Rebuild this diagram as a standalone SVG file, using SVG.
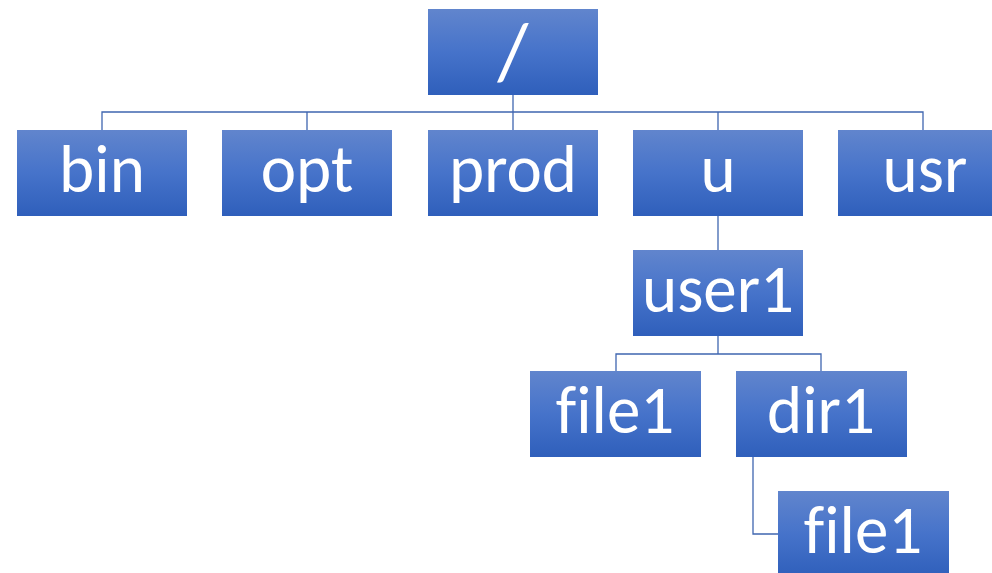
<svg xmlns="http://www.w3.org/2000/svg" width="992" height="573" viewBox="0 0 992 573">
  <defs>
    <linearGradient id="boxFill" x1="0" y1="0" x2="0" y2="1">
      <stop offset="0" stop-color="#6185cd"/>
      <stop offset="0.5" stop-color="#4673ca"/>
      <stop offset="1" stop-color="#2f5fbb"/>
    </linearGradient>
    <style>
      .box { fill: url(#boxFill); }
      .label { fill: #ffffff; font-family: "Carlito", "Liberation Sans", sans-serif; font-size: 67px; text-anchor: middle; font-variant-ligatures: none; }
      .link { fill: none; stroke: #3f66b0; stroke-width: 1.3; }
    </style>
  </defs>

  <!-- tree connectors -->
  <g id="connectors">
    <path class="link" d="M513 95 V112"/>
    <path class="link" d="M102 130 V112 H923 V130"/>
    <path class="link" d="M307 112 V130 M513 112 V130 M718 112 V130"/>
    <path class="link" d="M718 216 V250"/>
    <path class="link" d="M718 336 V354"/>
    <path class="link" d="M616 371 V354 H821 V371"/>
    <path class="link" d="M753 457 V534 H778"/>
  </g>

  <g id="root">
    <rect class="box" x="428" y="9" width="170" height="86"/>
    <text class="label" x="513" y="79" style="font-size:80px">/</text>
  </g>
  <g id="bin">
    <rect class="box" x="17" y="130" width="170" height="86"/>
    <text class="label" x="102" y="192">bin</text>
  </g>
  <g id="opt">
    <rect class="box" x="222" y="130" width="170" height="86"/>
    <text class="label" x="307" y="192">opt</text>
  </g>
  <g id="prod">
    <rect class="box" x="428" y="130" width="170" height="86"/>
    <text class="label" x="513" y="192">prod</text>
  </g>
  <g id="u">
    <rect class="box" x="633" y="130" width="170" height="86"/>
    <text class="label" x="718" y="192">u</text>
  </g>
  <g id="usr">
    <rect class="box" x="838" y="130" width="170" height="86"/>
    <text class="label" x="925" y="192">usr</text>
  </g>
  <g id="user1">
    <rect class="box" x="633" y="250" width="170" height="86"/>
    <text class="label" x="718" y="312">user1</text>
  </g>
  <g id="file1">
    <rect class="box" x="530" y="371" width="171" height="86"/>
    <text class="label" x="615" y="433">file1</text>
  </g>
  <g id="dir1">
    <rect class="box" x="736" y="371" width="171" height="86"/>
    <text class="label" x="821" y="433">dir1</text>
  </g>
  <g id="dir1-file1">
    <rect class="box" x="778" y="491" width="171" height="86"/>
    <text class="label" x="863" y="553">file1</text>
  </g>
</svg>
